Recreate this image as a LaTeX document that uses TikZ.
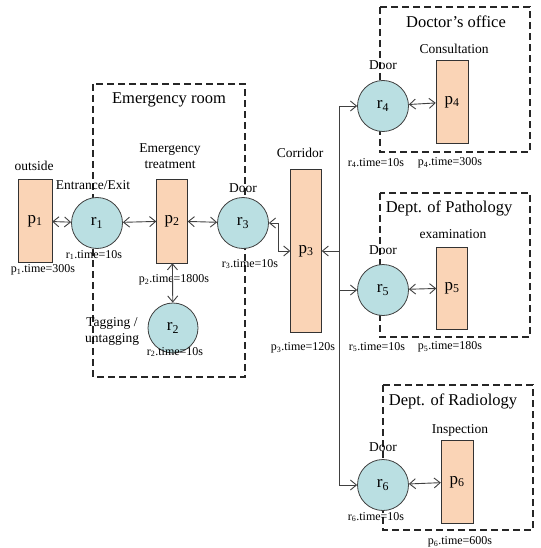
\documentclass[tikz,border=0pt]{standalone}
\usepackage{fontspec}
\setmainfont{Liberation Serif}
\usetikzlibrary{arrows.meta}
\definecolor{peach}{RGB}{250,212,182}
\definecolor{aqua}{RGB}{186,223,226}
\begin{document}
\begin{tikzpicture}[x=1pt, y=-1pt,
  >={Straight Barb[length=6pt, width=10pt]},
  place/.style={draw=black!80, fill=peach, minimum width=32pt, minimum height=83pt, inner sep=0pt, font=\fontsize{17}{17}\selectfont},
  res/.style={circle, draw=black!75, thick, fill=aqua, minimum size=51pt, inner sep=0pt, font=\fontsize{17}{17}\selectfont},
  room/.style={draw=black!85, line width=1.6pt, dash pattern=on 7pt off 4pt},
  title/.style={font=\fontsize{16.5}{16.5}\selectfont},
  lbl/.style={font=\fontsize{13.5}{16}\selectfont, align=center, inner sep=1pt},
  tm/.style={font=\fontsize{12}{12}\selectfont, inner sep=1pt},
  link/.style={<->, draw=black!75, line width=0.9pt}]
\useasboundingbox (0,0) rectangle (540,548);
% rooms
\draw[room] (93,84) rectangle (245,377);
\draw[room] (380,7) rectangle (530,152);
\draw[room] (380,193) rectangle (530,337);
\draw[room] (383,385) rectangle (533,530);
\node[title] (er) at (169,100) {Emergency room};
\node[title] (doc) at (456,22) {Doctor's office};
\node[title] (path) at (449,208) {Dept. of Pathology};
\node[title] (rad) at (453,401) {Dept. of Radiology};
% places and resources
\node[place, minimum width=34pt] (p1) at (35,221) {p\textsubscript{1}};
\node[res] (r1) at (97,223) {r\textsubscript{1}};
\node[place, minimum width=31pt, minimum height=84pt] (p2) at (172,221) {p\textsubscript{2}};
\node[res] (r3) at (243,223) {r\textsubscript{3}};
\node[res, minimum size=50pt] (r2) at (173,328) {r\textsubscript{2}};
\node[place, minimum width=31pt, minimum height=163pt] (p3) at (306,251) {p\textsubscript{3}};
\node[res] (r4) at (383,106) {r\textsubscript{4}};
\node[place] (p4) at (452,102) {p\textsubscript{4}};
\node[res] (r5) at (383,290) {r\textsubscript{5}};
\node[place, minimum width=31pt, minimum height=82pt] (p5) at (452,288) {p\textsubscript{5}};
\node[res] (r6) at (383,485) {r\textsubscript{6}};
\node[place] (p6) at (457,482) {p\textsubscript{6}};
% labels
\node[lbl] (outside) at (34,166) {outside};
\node[lbl] (entry) at (93,185) {Entrance/Exit};
\node[lbl] (treat) at (170,156) {Emergency\\treatment};
\node[lbl] (door3) at (243,188) {Door};
\node[lbl] (tag) at (112,331) {Tagging /\\untagging};
\node[lbl] (corr) at (300,153) {Corridor};
\node[lbl] (door4) at (383,65) {Door};
\node[lbl] (cons) at (454,49) {Consultation};
\node[lbl] (door5) at (383,250) {Door};
\node[lbl] (exam) at (453,234) {examination};
\node[lbl] (door6) at (383,447) {Door};
\node[lbl] (insp) at (460,430) {Inspection};
% times
\node[tm] (t1) at (43,270) {p\textsubscript{1}.time=300s};
\node[tm] (tr1) at (94,255) {r\textsubscript{1}.time=10s};
\node[tm] (t2) at (174,280) {p\textsubscript{2}.time=1800s};
\node[tm] (tr3) at (250,264) {r\textsubscript{3}.time=10s};
\node[tm] (tr2) at (175,352) {r\textsubscript{2}.time=10s};
\node[tm] (t3) at (303,348) {p\textsubscript{3}.time=120s};
\node[tm] (tr4) at (376,163) {r\textsubscript{4}.time=10s};
\node[tm] (t4) at (450,163) {p\textsubscript{4}.time=300s};
\node[tm] (tr5) at (377,347) {r\textsubscript{5}.time=10s};
\node[tm] (t5) at (450,347) {p\textsubscript{5}.time=180s};
\node[tm] (tr6) at (376,517) {r\textsubscript{6}.time=10s};
\node[tm] (t6) at (460,542) {p\textsubscript{6}.time=600s};
% links
\draw[link] (p1) -- (r1);
\draw[link] (r1) -- (p2);
\draw[link] (p2) -- (r3);
\draw[link] (p2) -- (r2);
\draw[link] (r3.east) -- ++(10,0) |- (p3.west);
\coordinate (bus) at (339,106);
\draw[draw=black!75, line width=0.9pt] (bus) -- (bus |- r6.west);
\draw[link, <-] (p3.east) -- (bus |- p3.east);
\draw[link, -> ] (bus) -- (r4.west);
\draw[link, -> ] (bus |- r5.west) -- (r5.west);
\draw[link, -> ] (bus |- r6.west) -- (r6.west);
\draw[link] (r4) -- (p4);
\draw[link] (r5) -- (p5);
\draw[link] (r6) -- (p6);
\end{tikzpicture}
\end{document}
